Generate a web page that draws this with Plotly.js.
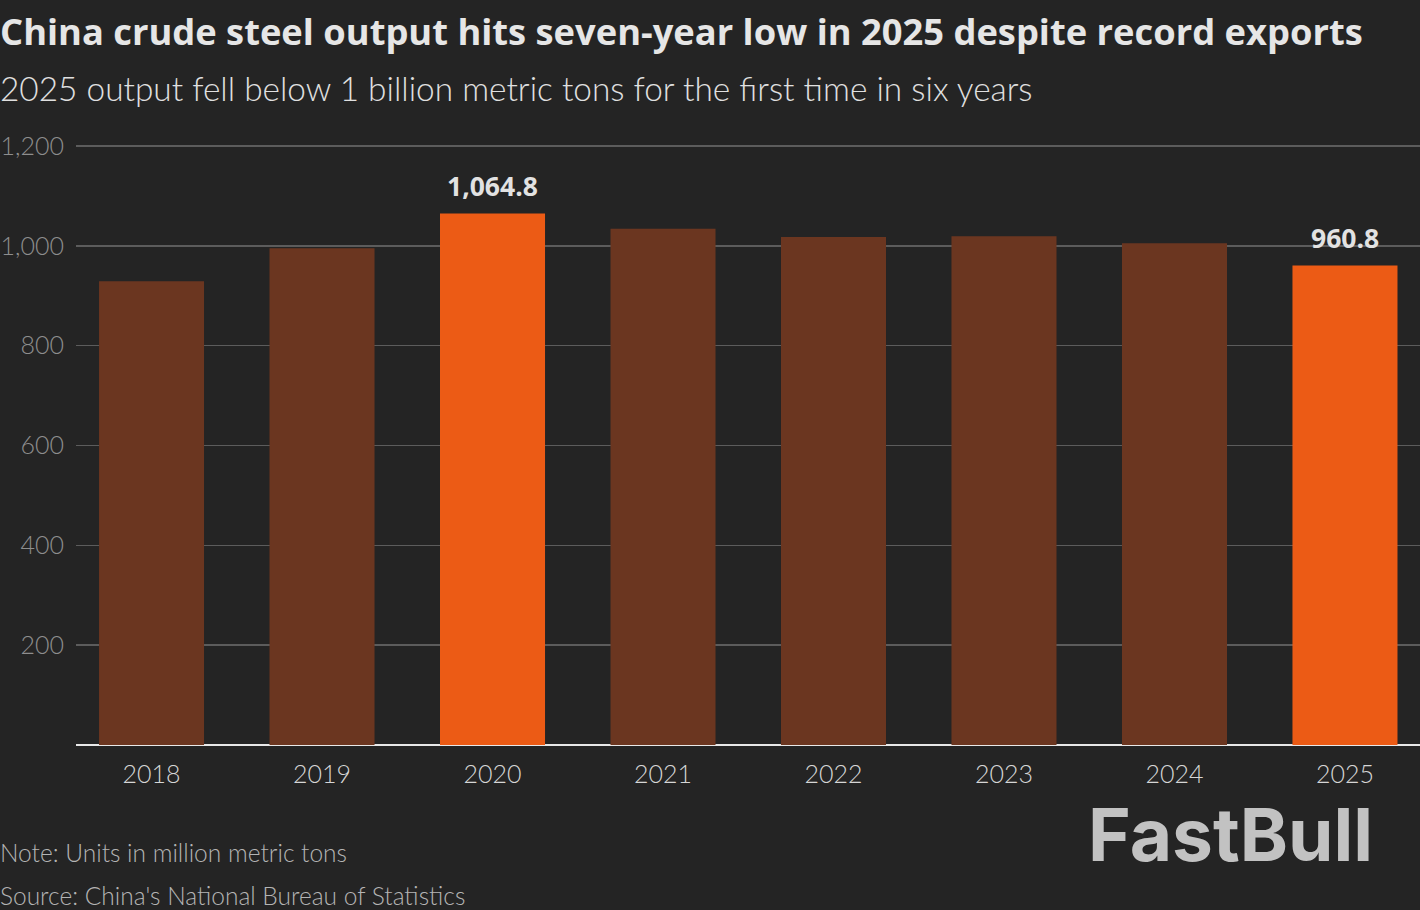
<!DOCTYPE html>
<html>
<head>
<meta charset="utf-8">
<script src="https://cdn.plot.ly/plotly-3.0.1.min.js"></script>
<style>
html,body{margin:0;padding:0;background:#242424;}
#chart{width:1420px;height:910px;}
</style>
</head>
<body>
<div id="chart"></div>
<script>
const years = ['2018','2019','2020','2021','2022','2023','2024','2025'];
const output = [929.1, 995.4, 1064.8, 1034.2, 1017.9, 1019.1, 1005.1, 960.8];
const highlighted = ['2020','2025'];
const labelValues = ['', '', '1,064.8', '', '', '', '', '960.8'];
const yTicks = [200, 400, 600, 800, 1000, 1200];
const yTickText = ['200', '400', '600', '800', '1,000', '1,200'];

const BROWN = '#6b3620';
const ORANGE = '#ec5b15';
const FONT = 'Lato, "Open Sans", sans-serif';
const BOLDFONT = '"Open Sans", Lato, sans-serif';

const colors = years.map(y => highlighted.includes(y) ? ORANGE : BROWN);

const trace = {
  type: 'bar',
  x: years,
  y: output,
  marker: {color: colors, line: {width: 0}},
  hoverinfo: 'skip'
};

const L = 76, W = 1344, T = 143, H = 602;
const py = p => (T + H - p) / H;
const px = p => (p - L) / W;

const annotations = [];
years.forEach((yr, i) => {
  if (labelValues[i]) {
    annotations.push({
      x: i, y: output[i], xref: 'x', yref: 'y',
      text: '<b>' + labelValues[i] + '</b>',
      showarrow: false, yanchor: 'bottom', yshift: 7,
      font: {family: BOLDFONT, size: 26.5, color: '#e2e2e2'}
    });
  }
});
annotations.push(
  {xref: 'paper', yref: 'paper', x: px(-2), y: py(31), xanchor: 'left', yanchor: 'middle',
   text: '<b>China crude steel output hits seven-year low in 2025 despite record exports</b>',
   showarrow: false, font: {family: BOLDFONT, size: 36.3, color: '#e6e6e6'}},
  {xref: 'paper', yref: 'paper', x: px(-2), y: py(88), xanchor: 'left', yanchor: 'middle',
   text: '2025 output fell below 1 billion metric tons for the first time in six years',
   showarrow: false, font: {family: FONT, size: 33.4, color: '#e0e0e0', weight: 300}},
  {xref: 'paper', yref: 'paper', x: px(-2), y: py(852), xanchor: 'left', yanchor: 'middle',
   text: 'Note: Units in million metric tons',
   showarrow: false, font: {family: FONT, size: 24.5, color: '#b4b4b4', weight: 300}},
  {xref: 'paper', yref: 'paper', x: px(-2), y: py(895), xanchor: 'left', yanchor: 'middle',
   text: "Source: China's National Bureau of Statistics",
   showarrow: false, font: {family: FONT, size: 24.5, color: '#b4b4b4', weight: 300}},
  {xref: 'paper', yref: 'paper', x: px(1375), y: py(834), xanchor: 'right', yanchor: 'middle',
   text: '<b>FastBull</b>',
   showarrow: false, font: {family: 'Inter, Lato, sans-serif', size: 73, color: '#c2c2c2'}}
);

const layout = {
  width: 1420, height: 910,
  paper_bgcolor: '#242424', plot_bgcolor: '#242424',
  margin: {l: L, r: 1420 - L - W, t: T, b: 910 - T - H, pad: 0},
  showlegend: false,
  bargap: 0.384,
  xaxis: {
    type: 'category', range: [-0.443, 7.44], fixedrange: true,
    showgrid: false, zeroline: false, showline: false, ticks: '',
    tickfont: {family: FONT, size: 25, color: '#d6d6d6', weight: 300},
    ticklabelstandoff: 12
  },
  yaxis: {
    range: [0, 1206], fixedrange: true,
    tickvals: yTicks, ticktext: yTickText,
    showgrid: true, gridcolor: '#5c5c5c', gridwidth: 1.5,
    zeroline: true, zerolinecolor: '#e8e8e8', zerolinewidth: 2,
    showline: false, ticks: '',
    tickfont: {family: FONT, size: 25, color: '#8e8e8e', weight: 300},
    ticklabelstandoff: 11
  },
  annotations: annotations
};

Plotly.newPlot('chart', [trace], layout, {displayModeBar: false, staticPlot: true});
</script>
</body>
</html>
